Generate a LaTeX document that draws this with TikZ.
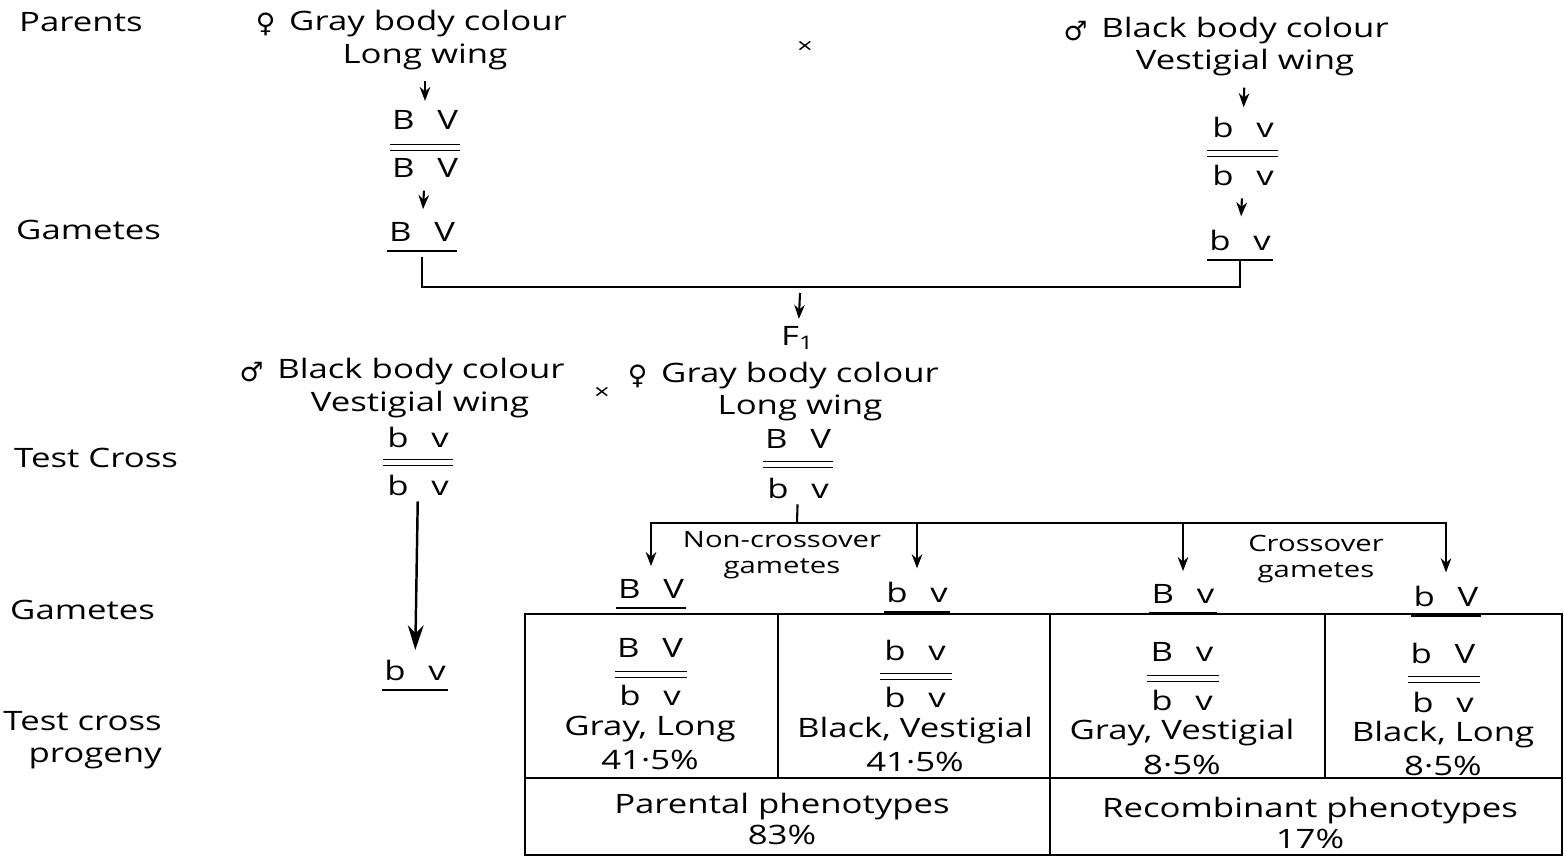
\documentclass[tikz,border=0pt]{standalone}
\usepackage{fontspec}
\setmainfont{Open Sans}[FakeStretch=1.3]
\newfontfamily\symfont{DejaVu Sans}
\usetikzlibrary{arrows.meta,positioning}

\newcommand{\gt}[2]{#1\hspace{0.85em}#2}
\newcommand{\fem}{{\symfont\char"2640}}
\newcommand{\mal}{{\symfont\char"2642}}

\tikzset{
  txt/.style={font=\fontsize{7.6}{9}\selectfont, inner sep=1pt},
  small/.style={font=\fontsize{6.4}{7.2}\selectfont, inner sep=1pt, align=center},
  gen/.style={txt, inner sep=1.5pt},
  gam/.style={txt, inner xsep=0.5pt, inner ysep=2.6pt},
  arr/.style={-{Stealth[length=4pt,width=3pt]}, line width=0.6pt, shorten <=2pt, shorten >=1pt},
  bigarr/.style={-{Stealth[length=7pt,width=4.5pt]}, line width=0.7pt},
  homol/.style={double, double distance=1.2pt, line width=0.5pt},
  uline/.style={line width=0.6pt}
}

\begin{document}
\begin{tikzpicture}[x=0.01cm,y=-0.01cm]
    \useasboundingbox (0,0) rectangle (1564,856);

    % row labels
    \node[txt, anchor=west]  (parents) at (15,22)   {Parents};
    \node[txt, anchor=west]  (gam1)    at (12,230)  {Gametes};
    \node[txt, anchor=west]  (test)    at (10,458)  {Test Cross};
    \node[txt, anchor=west]  (gam2)    at (6,610)   {Gametes};
    \node[txt, anchor=east, align=right] (prog) at (166,740) {Test cross\\progeny};

    % parents
    \node[txt]  (fcol)  at (428,24)              {Gray body colour};
    \node[txt]  (fsym)  [left=1.5pt of fcol]     {\fem};
    \node[txt]  (fwing) at (425,57)              {Long wing};
    \node[gen]  (fg1)   at (425,120)             {\gt BV};
    \node[gen]  (fg2)   at (425,168)             {\gt BV};
    \node[gam]  (fgam)  at (422,232)             {\gt BV};

    \node[txt, font=\fontsize{6}{6}\selectfont] (cross1) at (805,47) {×};

    \node[txt]  (mcol)  at (1245,31)             {Black body colour};
    \node[txt]  (msym)  [left=1.5pt of mcol]     {\mal};
    \node[txt]  (mwing) at (1245,63)             {Vestigial wing};
    \node[gen]  (mg1)   at (1243,127)            {\gt bv};
    \node[gen]  (mg2)   at (1243,175)            {\gt bv};
    \node[gam]  (mgam)  at (1240,240)            {\gt bv};

    \draw[homol] (390,147.5) -- (460,147.5);
    \draw[homol] (1207,153.5) -- (1278,153.5);
    \draw[uline] (fgam.south west) -- (fgam.south east);
    \draw[uline] (mgam.south west) -- (mgam.south east);

    \path[arr]  (fwing) edge (fg1)
                (fg2)   edge (fgam)
                (mwing) edge (mg1)
                (mg2)   edge (mgam);

    \coordinate (join)  at (800,287);
    \coordinate (f1top) at (800,293);
    \draw[uline, shorten <=1.5pt] (fgam.south) |- (join) -| (mgam.south);

    \node[txt]  (f1)    at (798,338)             {F\textsubscript{1}};
    \draw[arr, shorten <=0pt] (f1top) -- (f1);

    % test cross
    \node[txt]  (tmcol)  at (421,372)            {Black body colour};
    \node[txt]  (tmsym)  [left=1.5pt of tmcol]   {\mal};
    \node[txt]  (tmwing) at (420,405)            {Vestigial wing};
    \node[txt, font=\fontsize{6}{6}\selectfont] (cross2) at (602,393) {×};
    \node[txt]  (tfcol)  at (800,376)            {Gray body colour};
    \node[txt]  (tfsym)  [left=1.5pt of tfcol]   {\fem};
    \node[txt]  (tfwing) at (800,408)            {Long wing};

    \node[gen]  (tmg1)   at (418,437)            {\gt bv};
    \node[gen]  (tmg2)   at (418,485)            {\gt bv};
    \node[gam]  (tmgam)  at (415,670)            {\gt bv};
    \draw[homol] (383,462.5) -- (453,462.5);
    \draw[uline] (tmgam.south west) -- (tmgam.south east);
    \draw[bigarr] (tmg2) -- (tmgam);

    \node[gen]  (tfg1)   at (798,439)            {\gt BV};
    \node[gen]  (tfg2)   at (798,488)            {\gt bv};
    \draw[homol] (763,464.5) -- (833,464.5);

    % gametes of the F1
    \coordinate (split) at (797,523);
    \draw[uline] (tfg2) -- (split);

    \node[gam]  (g1)  at (651,589)               {\gt BV};
    \node[gam]  (g2)  at (917,592)               {\gt bv};
    \node[gam]  (g3)  at (1183,594)              {\gt Bv};
    \node[gam]  (g4)  at (1446,596)              {\gt bV};
    \draw[uline] (g1.south west) -- (g1.south east);
    \draw[uline] (g2.south west) -- (g2.south east);
    \draw[uline] (g3.south west) -- (g3.south east);
    \draw[uline] (g4.south west) -- (g4.south east);

    \draw[arr, shorten <=0pt] (split) -| (g1);
    \draw[arr, shorten <=0pt] (split) -| (g2);
    \draw[arr, shorten <=0pt] (split) -| (g3);
    \draw[arr, shorten <=0pt] (split) -| (g4);

    \node[small] (noncross) at (782,555)         {Non-crossover\\gametes};
    \node[small] (cross)    at (1316,559)        {Crossover\\gametes};

    % progeny table
    \draw[uline] (525,614) rectangle (1562,855);
    \draw[uline] (525,778) -- (1562,778);
    \draw[uline] (778,614) -- (778,778);
    \draw[uline] (1050,614) -- (1050,855);
    \draw[uline] (1325,614) -- (1325,778);

    \node[gen]  (c1a) at (650,648)               {\gt BV};
    \node[gen]  (c1b) at (650,695)               {\gt bv};
    \node[txt]  (c1p) at (650,729)               {Gray, Long};
    \node[txt]  (c1f) at (650,760)               {41·5\%};
    \draw[homol] (615,674.5) -- (687,674.5);

    \node[gen]  (c2a) at (915,650)               {\gt bv};
    \node[gen]  (c2b) at (915,697)               {\gt bv};
    \node[txt]  (c2p) at (915,731)               {Black, Vestigial};
    \node[txt]  (c2f) at (915,762)               {41·5\%};
    \draw[homol] (880,676.5) -- (952,676.5);

    \node[gen]  (c3a) at (1182,652)              {\gt Bv};
    \node[gen]  (c3b) at (1182,700)              {\gt bv};
    \node[txt]  (c3p) at (1182,733)              {Gray, Vestigial};
    \node[txt]  (c3f) at (1182,765)              {8·5\%};
    \draw[homol] (1147,678.5) -- (1219,678.5);

    \node[gen]  (c4a) at (1443,653)              {\gt bV};
    \node[gen]  (c4b) at (1443,702)              {\gt bv};
    \node[txt]  (c4p) at (1443,735)              {Black, Long};
    \node[txt]  (c4f) at (1443,766)              {8·5\%};
    \draw[homol] (1408,679.5) -- (1480,679.5);

    \node[txt, align=center] (parental) at (782,819)  {Parental phenotypes\\83\%};
    \node[txt, align=center] (recomb)   at (1310,823) {Recombinant phenotypes\\17\%};
\end{tikzpicture}
\end{document}
